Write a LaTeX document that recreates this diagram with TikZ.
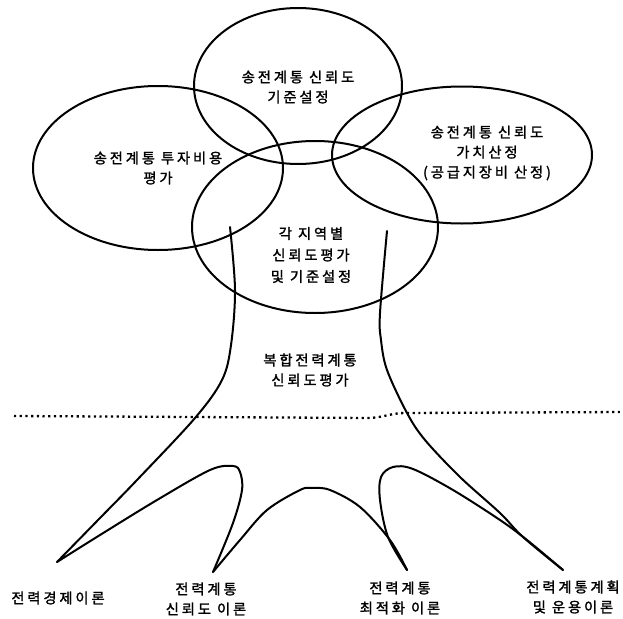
\documentclass[tikz,border=0pt]{standalone}
\usepackage{fontspec}
\newfontfamily\kr[LetterSpace=20, FakeBold=1.6]{Noto Sans CJK KR}
\usetikzlibrary{shapes.geometric}
\begin{document}
\begin{tikzpicture}[x=1pt,y=-1pt,
  ring/.style={draw, ellipse, line width=2pt, inner sep=0pt, outer sep=0pt},
  txt/.style={font=\kr\fontsize{14.3}{20}\selectfont, align=center, inner sep=0pt},
  stroke/.style={line width=2pt, line join=round, line cap=round},
  ground/.style={line width=2.3pt, dash pattern=on 2.2pt off 3.5pt}]
\useasboundingbox (0,0) rectangle (623,618);

% crown: four overlapping ellipses
\node[ring, minimum width=208pt, minimum height=156pt] (ctop)   at (298,86)  {};
\node[ring, minimum width=250pt, minimum height=164pt] (cleft)  at (158,168) {};
\node[ring, minimum width=260pt, minimum height=137pt] (cright) at (462,155) {};
\node[ring, minimum width=246pt, minimum height=172pt] (cmid)   at (315,227) {};

\node[txt] (ttop)   at (298,87)  {송전계통 신뢰도\\기준설정};
\node[txt] (tleft)  at (158,168) {송전계통 투자비용\\평가};
\node[txt] (tright) at (487,153) {송전계통 신뢰도\\가치산정\\(공급지장비 산정)};
\node[txt, font=\kr\fontsize{14.3}{21.5}\selectfont] (tmid) at (311,255) {각 지역별\\신뢰도평가\\및 기준설정};

% trunk and roots
\coordinate (ltop) at (230,227);
\coordinate (rtop) at (387,231);
\coordinate (tipa) at (57,562);
\coordinate (tipb) at (213,572);
\coordinate (tipc) at (407,570);
\coordinate (tipd) at (563,570);

\draw[stroke] plot[smooth, tension=0.55] coordinates
  {(ltop) (235,290) (231,345) (222,380) (195,418) (137,480) (100,518) (tipa)};
\draw[stroke] plot[smooth, tension=0.55] coordinates
  {(tipa) (100,535) (157,500) (210,470) (233,466) (240,472) (242,490) (233,523) (tipb)};
\draw[stroke] plot[smooth, tension=0.55] coordinates
  {(tipb) (240,540) (267,510) (300,490) (312,488) (330,490) (360,507) (390,540) (tipc)};
\draw[stroke] plot[smooth, tension=0.55] coordinates
  {(tipc) (388,537) (380,500) (381,477) (393,467) (413,469) (453,490) (500,520) (527,540) (tipd)};
\draw[stroke] plot[smooth, tension=0.55] coordinates
  {(rtop) (380,313) (381,340) (387,370) (407,413) (425,440) (460,477) (500,513) (523,537) (tipd)};

\node[txt] (ttrunk) at (310,370) {복합전력계통\\신뢰도평가};

% ground line
\coordinate (gl) at (14,416);
\coordinate (gr) at (623,412);
\draw[ground] (gl) -- (370,418) .. controls (385,417) and (392,413) .. (405,413) -- (gr);

% root labels
\node[txt] (ra) at (58,598)  {전력경제이론};
\node[txt] (rb) at (206,599) {전력계통\\신뢰도 이론};
\node[txt] (rc) at (400,598) {전력계통\\최적화 이론};
\node[txt] (rd) at (573,597) {전력계통계획\\및 운용이론};
\end{tikzpicture}
\end{document}
